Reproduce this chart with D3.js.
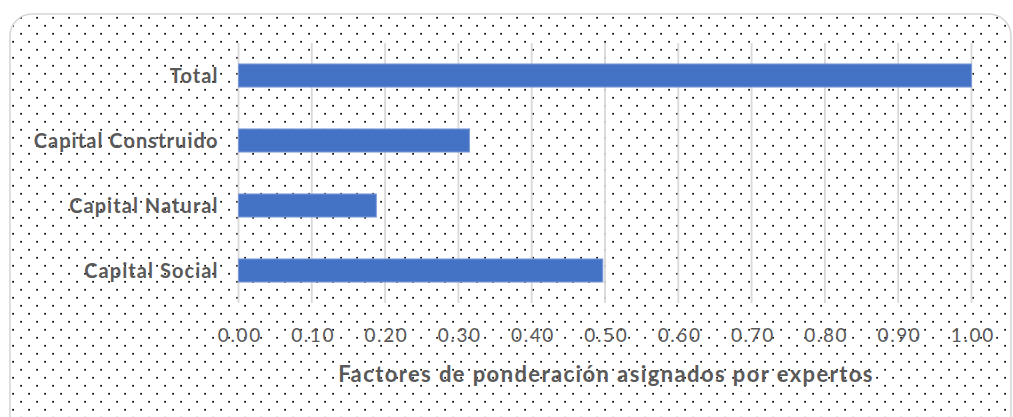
<!DOCTYPE html>
<html>
<head>
<meta charset="utf-8">
<script src="https://cdn.jsdelivr.net/npm/d3@7"></script>
<style>
  html, body { margin: 0; padding: 0; background: #ffffff; }
  svg { display: block; }
</style>
</head>
<body>
<svg id="chart" width="1013" height="417"></svg>
<script>
// Weighting factors assigned by experts, per capital type
const categories = ["Total", "Capital Construido", "Capital Natural", "Capital Social"];
const weights = [1.00, 0.315, 0.188, 0.497];
const tickValues = [0, 0.1, 0.2, 0.3, 0.4, 0.5, 0.6, 0.7, 0.8, 0.9, 1.0];
const axisTitle = "Factores de ponderación asignados por expertos";

const svg = d3.select("#chart");
const FONT = "Lato, 'Open Sans', sans-serif";

const plot = { left: 238.5, right: 971.5, top: 43, bottom: 303 };

// dotted background fill
const defs = svg.append("defs");
const pat = defs.append("pattern")
  .attr("id", "dots")
  .attr("patternUnits", "userSpaceOnUse")
  .attr("width", 16).attr("height", 16);
pat.append("rect").attr("width", 16).attr("height", 16).attr("fill", "#ffffff");
pat.append("rect").attr("x", 4.2).attr("y", 0.9).attr("width", 1.8).attr("height", 1.8).attr("fill", "#111");
pat.append("rect").attr("x", 12.2).attr("y", 8.9).attr("width", 1.8).attr("height", 1.8).attr("fill", "#111");

// chart frame
svg.append("rect")
  .attr("x", 10).attr("y", 14)
  .attr("width", 1001).attr("height", 430)
  .attr("rx", 22).attr("ry", 22)
  .attr("fill", "url(#dots)")
  .attr("stroke", "#d6d6d6")
  .attr("stroke-width", 1.6);

const x = d3.scaleLinear().domain([0, 1]).range([plot.left, plot.right]);
const y = d3.scaleBand().domain(categories).range([plot.top, plot.bottom]).paddingInner(0.645).paddingOuter(0.3225);

// vertical gridlines
svg.append("g")
  .selectAll("line")
  .data(tickValues)
  .join("line")
  .attr("x1", d => x(d)).attr("x2", d => x(d))
  .attr("y1", plot.top).attr("y2", plot.bottom)
  .attr("stroke", "#d9d9d9")
  .attr("stroke-width", 1.8);

// bars
svg.append("g")
  .selectAll("rect")
  .data(categories)
  .join("rect")
  .attr("x", x(0))
  .attr("y", d => y(d))
  .attr("width", (d, i) => x(weights[i]) - x(0))
  .attr("height", y.bandwidth())
  .attr("fill", "#4472c4")
  .attr("stroke", "#7d9bd8")
  .attr("stroke-width", 1);

// category labels
const yAxis = d3.axisLeft(y).tickSize(0).tickPadding(20);
const gy = svg.append("g").attr("transform", `translate(${plot.left},0)`).call(yAxis);
gy.select(".domain").remove();
gy.selectAll("text")
  .attr("fill", "#595959")
  .attr("font-family", FONT)
  .attr("font-weight", "bold")
  .attr("font-size", "20px")
  .attr("letter-spacing", "1.05px")
  .attr("dy", "0.36em");

// value axis labels
const xAxis = d3.axisBottom(x).tickValues(tickValues).tickSize(0).tickPadding(0).tickFormat(d3.format(".2f"));
const gx = svg.append("g").attr("transform", `translate(0,${plot.bottom})`).call(xAxis);
gx.select(".domain").remove();
gx.selectAll("text")
  .attr("fill", "#595959")
  .attr("font-family", FONT)
  .attr("font-size", "19px")
  .attr("letter-spacing", "1.6px")
  .attr("dx", "0.8px")
  .attr("y", 39)
  .attr("dy", 0);

// axis title
svg.append("text")
  .attr("x", 606)
  .attr("y", 382)
  .attr("text-anchor", "middle")
  .attr("fill", "#595959")
  .attr("font-family", FONT)
  .attr("font-weight", "bold")
  .attr("font-size", "22px")
  .attr("letter-spacing", "1.4px")
  .text(axisTitle);
</script>
</body>
</html>
